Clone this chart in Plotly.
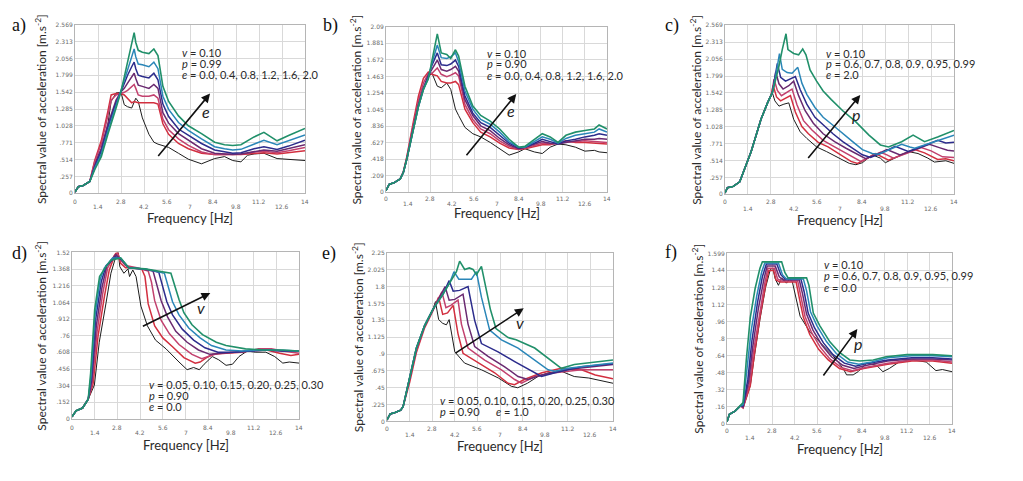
import plotly.graph_objects as go

W, H = 1023, 481

# ---------------- data ----------------
FREQ_TICKS = [0, 1.4, 2.8, 4.2, 5.6, 7.0, 8.4, 9.8, 11.2, 12.6, 14.0]
FREQ_TICK_LABELS = ["0", "1.4", "2.8", "4.2", "5.6", "7", "8.4", "9.8", "11.2", "12.6", "14"]

A_Y_TICKS = [0, 0.2569, 0.5138, 0.7707, 1.0276, 1.2845, 1.5414, 1.7983, 2.0552, 2.3121, 2.569]
A_Y_LABELS = ["0", ".257", ".514", ".771", "1.028", "1.285", "1.542", "1.799", "2.056", "2.313", "2.569"]
B_Y_TICKS = [0, 0.209, 0.418, 0.627, 0.836, 1.045, 1.254, 1.463, 1.672, 1.881, 2.09]
B_Y_LABELS = ["0", ".209", ".418", ".627", ".836", "1.045", "1.254", "1.463", "1.672", "1.881", "2.09"]
C_Y_TICKS = A_Y_TICKS
C_Y_LABELS = A_Y_LABELS
D_Y_TICKS = [0, 0.152, 0.304, 0.456, 0.608, 0.76, 0.912, 1.064, 1.216, 1.368, 1.52]
D_Y_LABELS = ["0", ".152", ".304", ".456", ".608", ".76", ".912", "1.064", "1.216", "1.368", "1.52"]
E_Y_TICKS = [0, 0.225, 0.45, 0.675, 0.9, 1.125, 1.35, 1.575, 1.8, 2.025, 2.25]
E_Y_LABELS = ["0", ".225", ".45", ".675", ".9", "1.125", "1.35", "1.575", "1.8", "2.025", "2.25"]
F_Y_TICKS = [0, 0.16, 0.32, 0.48, 0.64, 0.8, 0.96, 1.12, 1.28, 1.44, 1.599]
F_Y_LABELS = ["0", ".16", ".32", ".48", ".64", ".8", ".96", "1.12", "1.28", "1.44", "1.599"]

# panel a (shared frequency grid)
a_freq = [0, 0.2, 0.5, 0.9, 1.2, 1.6, 2.0, 2.2, 2.5, 2.8, 3.0, 3.2, 3.45, 3.6, 3.7, 3.85, 4.1, 4.5, 4.8,
          5.05, 5.35, 5.7, 6.3, 6.9, 7.7, 8.5, 9.1, 9.6, 10.1, 10.5, 10.9, 11.5, 12.3, 13.0, 14.0]
a_black = [0.02, 0.1, 0.12, 0.18, 0.45, 0.68, 1.05, 1.4, 1.53, 1.54, 1.35, 1.32, 1.3, 1.38, 1.45, 1.4, 1.15, 0.9,
           0.78, 0.75, 0.73, 0.7, 0.61, 0.52, 0.45, 0.53, 0.56, 0.5, 0.48, 0.58, 0.6, 0.61, 0.53, 0.52, 0.5]
a_red1 = [0.02, 0.1, 0.12, 0.18, 0.5, 0.8, 1.25, 1.5, 1.52, 1.52, 1.5, 1.45, 1.38, 1.4, 1.39, 1.38, 1.38, 1.38,
          1.38, 1.36, 1.06, 0.9, 0.76, 0.68, 0.61, 0.59, 0.59, 0.58, 0.59, 0.6, 0.61, 0.62, 0.6, 0.62, 0.65]
a_red2 = [0.02, 0.1, 0.12, 0.18, 0.48, 0.75, 1.18, 1.42, 1.5, 1.52, 1.54, 1.57, 1.62, 1.66, 1.6, 1.5, 1.48, 1.48,
          1.5, 1.45, 1.13, 0.97, 0.83, 0.73, 0.63, 0.59, 0.59, 0.59, 0.6, 0.61, 0.63, 0.64, 0.62, 0.65, 0.7]
a_purple = [0.02, 0.1, 0.12, 0.18, 0.42, 0.68, 1.05, 1.2, 1.42, 1.55, 1.6, 1.68, 1.78, 1.83, 1.75, 1.65, 1.63, 1.6,
            1.66, 1.6, 1.23, 1.07, 0.91, 0.81, 0.68, 0.61, 0.6, 0.59, 0.6, 0.62, 0.64, 0.66, 0.64, 0.68, 0.74]
a_navy = [0.02, 0.1, 0.12, 0.18, 0.4, 0.64, 1.0, 1.15, 1.38, 1.55, 1.68, 1.8, 1.93, 2.0, 1.9, 1.8, 1.78, 1.76,
          1.83, 1.73, 1.36, 1.17, 0.98, 0.88, 0.76, 0.66, 0.63, 0.61, 0.62, 0.65, 0.68, 0.71, 0.67, 0.72, 0.81]
a_blue = [0.02, 0.1, 0.12, 0.18, 0.38, 0.6, 0.95, 1.1, 1.33, 1.55, 1.72, 1.88, 2.08, 2.2, 2.08, 1.97, 1.96, 1.93,
          2.0, 1.9, 1.48, 1.28, 1.08, 0.96, 0.83, 0.71, 0.68, 0.66, 0.67, 0.71, 0.76, 0.81, 0.74, 0.8, 0.89]
a_green = [0.02, 0.1, 0.12, 0.18, 0.36, 0.56, 0.9, 1.05, 1.3, 1.55, 1.78, 1.98, 2.25, 2.45, 2.3, 2.18, 2.15, 2.13,
           2.2, 2.1, 1.63, 1.4, 1.18, 1.03, 0.91, 0.78, 0.74, 0.73, 0.74, 0.8, 0.86, 0.93, 0.8, 0.88, 0.99]

# panel b (shared frequency grid)
b_freq = [0, 0.2, 0.5, 0.9, 1.1, 1.32, 1.74, 2.05, 2.37, 2.68, 2.9, 3.25, 3.5, 3.85, 4.1, 4.4, 4.6, 5.0, 5.5,
          6.0, 6.6, 7.2, 7.8, 8.4, 8.8, 9.4, 9.9, 10.4, 10.9, 11.4, 12.0, 12.6, 13.2, 13.5, 14.0]
b_black = [0.02, 0.1, 0.12, 0.17, 0.25, 0.42, 0.82, 1.12, 1.32, 1.45, 1.51, 1.34, 1.32, 1.38, 1.3, 1.05, 0.97,
           0.82, 0.74, 0.7, 0.63, 0.55, 0.47, 0.51, 0.55, 0.51, 0.49, 0.57, 0.61, 0.6, 0.57, 0.52, 0.53, 0.51, 0.5]
b_red1 = [0.02, 0.1, 0.12, 0.17, 0.26, 0.45, 0.9, 1.21, 1.44, 1.52, 1.49, 1.47, 1.4, 1.38, 1.38, 1.4, 1.36,
          1.05, 0.88, 0.76, 0.7, 0.62, 0.56, 0.54, 0.55, 0.58, 0.6, 0.6, 0.63, 0.65, 0.63, 0.63, 0.62, 0.62, 0.61]
b_red2 = [0.02, 0.1, 0.12, 0.17, 0.26, 0.44, 0.86, 1.15, 1.38, 1.5, 1.5, 1.57, 1.49, 1.46, 1.48, 1.51, 1.47,
          1.11, 0.92, 0.8, 0.74, 0.65, 0.58, 0.54, 0.56, 0.59, 0.62, 0.61, 0.62, 0.64, 0.64, 0.65, 0.64, 0.64, 0.63]
b_purple = [0.02, 0.1, 0.12, 0.17, 0.25, 0.42, 0.82, 1.1, 1.32, 1.48, 1.55, 1.67, 1.55, 1.53, 1.55, 1.59, 1.53,
            1.17, 0.97, 0.84, 0.78, 0.68, 0.6, 0.55, 0.57, 0.61, 0.64, 0.62, 0.61, 0.63, 0.65, 0.67, 0.67, 0.68, 0.67]
b_navy = [0.02, 0.1, 0.12, 0.17, 0.25, 0.42, 0.8, 1.08, 1.3, 1.46, 1.6, 1.76, 1.61, 1.6, 1.62, 1.67, 1.59,
          1.22, 1.0, 0.88, 0.82, 0.72, 0.62, 0.56, 0.57, 0.62, 0.67, 0.64, 0.61, 0.65, 0.67, 0.7, 0.72, 0.74, 0.72]
b_blue = [0.02, 0.1, 0.12, 0.17, 0.25, 0.42, 0.8, 1.08, 1.3, 1.44, 1.62, 1.86, 1.7, 1.69, 1.71, 1.76, 1.65,
          1.28, 1.05, 0.92, 0.86, 0.76, 0.64, 0.57, 0.57, 0.64, 0.7, 0.67, 0.62, 0.68, 0.72, 0.74, 0.76, 0.8, 0.76]
b_green = [0.02, 0.1, 0.12, 0.17, 0.25, 0.42, 0.8, 1.08, 1.3, 1.43, 1.65, 2.0, 1.76, 1.74, 1.69, 1.8, 1.72,
           1.34, 1.09, 0.97, 0.9, 0.8, 0.67, 0.57, 0.58, 0.67, 0.74, 0.7, 0.63, 0.72, 0.76, 0.78, 0.8, 0.85, 0.8]

# panel c (frequency, value) pairs
c_black = [(0, 0.02), (0.15, 0.1), (0.5, 0.12), (0.9, 0.19), (1.6, 0.65), (2.2, 1.14), (2.6, 1.39), (2.9, 1.54),
           (3.05, 1.42), (3.3, 1.34), (3.6, 1.37), (3.9, 1.39), (4.2, 1.14), (4.6, 0.95), (5.0, 0.85), (5.6, 0.72),
           (6.2, 0.65), (7.0, 0.55), (7.6, 0.47), (8.0, 0.45), (8.4, 0.48), (9.0, 0.6), (9.5, 0.55), (9.8, 0.48),
           (10.5, 0.56), (11.2, 0.65), (11.8, 0.62), (12.4, 0.55), (12.8, 0.49), (13.5, 0.51), (14, 0.47)]
c_red1 = [(0, 0.02), (0.15, 0.1), (0.5, 0.12), (0.9, 0.19), (1.6, 0.65), (2.2, 1.14), (2.6, 1.39), (2.8, 1.5),
          (2.95, 1.65), (3.15, 1.48), (3.4, 1.42), (3.7, 1.46), (4.0, 1.5), (4.3, 1.25), (4.7, 1.03), (5.1, 0.92),
          (5.7, 0.79), (6.3, 0.72), (7.1, 0.6), (7.7, 0.5), (8.1, 0.47), (8.5, 0.52), (9.2, 0.62), (9.6, 0.57),
          (10.0, 0.52), (10.8, 0.6), (11.6, 0.68), (12.2, 0.63), (13.0, 0.53), (13.5, 0.54), (14, 0.51)]
c_red2 = [(0, 0.02), (0.15, 0.1), (0.5, 0.12), (0.9, 0.19), (1.6, 0.65), (2.2, 1.14), (2.6, 1.39), (2.85, 1.53),
          (3.0, 1.75), (3.2, 1.58), (3.45, 1.5), (3.8, 1.55), (4.1, 1.6), (4.4, 1.36), (4.8, 1.12), (5.3, 0.98),
          (6.0, 0.82), (6.7, 0.72), (7.4, 0.62), (8.0, 0.54), (8.3, 0.5), (8.8, 0.56), (9.5, 0.64), (9.9, 0.6),
          (10.3, 0.55), (11.2, 0.63), (12.0, 0.71), (12.6, 0.66), (13.3, 0.57), (14, 0.56)]
c_purple = [(0, 0.02), (0.15, 0.1), (0.5, 0.12), (0.9, 0.19), (1.6, 0.65), (2.2, 1.14), (2.6, 1.39), (2.9, 1.55),
            (3.1, 1.86), (3.3, 1.68), (3.55, 1.6), (3.9, 1.65), (4.2, 1.72), (4.5, 1.5), (4.9, 1.27), (5.4, 1.08),
            (6.0, 0.92), (6.7, 0.8), (7.4, 0.7), (8.1, 0.6), (8.6, 0.54), (9.2, 0.6), (9.9, 0.68), (10.3, 0.64),
            (10.7, 0.6), (11.6, 0.68), (12.5, 0.76), (13.1, 0.71), (13.6, 0.67), (14, 0.66)]
c_navy = [(0, 0.02), (0.15, 0.1), (0.5, 0.12), (0.9, 0.19), (1.6, 0.65), (2.2, 1.14), (2.6, 1.39), (2.9, 1.55),
          (3.2, 1.99), (3.4, 1.78), (3.7, 1.72), (4.0, 1.75), (4.3, 1.79), (4.6, 1.59), (5.0, 1.37), (5.5, 1.17),
          (6.0, 1.05), (6.6, 0.92), (7.2, 0.8), (7.8, 0.7), (8.4, 0.6), (8.9, 0.56), (9.6, 0.63), (10.4, 0.73),
          (10.8, 0.69), (11.2, 0.65), (12.1, 0.73), (13.0, 0.82), (13.5, 0.78), (14, 0.79)]
c_blue = [(0, 0.02), (0.15, 0.1), (0.5, 0.12), (0.9, 0.19), (1.6, 0.65), (2.2, 1.14), (2.6, 1.39), (2.9, 1.55),
          (3.1, 1.8), (3.33, 2.14), (3.5, 1.9), (3.8, 1.85), (4.1, 1.84), (4.45, 1.93), (4.7, 1.69), (5.0, 1.52),
          (5.5, 1.32), (6.0, 1.17), (6.6, 1.05), (7.2, 0.92), (7.8, 0.8), (8.4, 0.68), (9.0, 0.62), (9.4, 0.61),
          (10.0, 0.67), (10.8, 0.76), (11.3, 0.72), (11.6, 0.7), (12.8, 0.8), (14, 0.9)]
c_green = [(0, 0.02), (0.15, 0.1), (0.5, 0.12), (0.9, 0.19), (1.6, 0.65), (2.2, 1.14), (2.6, 1.39), (2.9, 1.55),
           (3.1, 1.75), (3.3, 1.95), (3.5, 2.2), (3.73, 2.44), (3.85, 2.2), (4.2, 2.14), (4.5, 2.12), (4.75, 2.21),
           (4.95, 2.12), (5.2, 1.89), (5.6, 1.72), (6.0, 1.57), (6.5, 1.44), (7.2, 1.27), (8.0, 1.1), (8.8, 0.9),
           (9.5, 0.75), (10.0, 0.72), (10.8, 0.8), (11.5, 0.9), (12.2, 0.8), (13.0, 0.87), (14, 0.97)]

# panel d
d_black = [(0, 0.02), (0.25, 0.075), (0.65, 0.1), (1.0, 0.18), (1.38, 0.31), (1.68, 0.7), (2.1, 1.06), (2.4, 1.33),
           (2.7, 1.48), (2.85, 1.52), (2.95, 1.39), (3.2, 1.33), (3.45, 1.37), (3.55, 1.3), (3.75, 1.36), (3.95, 1.3),
           (4.25, 1.03), (4.65, 0.85), (5.15, 0.72), (5.8, 0.64), (6.6, 0.52), (7.1, 0.45), (7.5, 0.47), (7.85, 0.45),
           (8.15, 0.5), (8.65, 0.57), (9.05, 0.54), (9.5, 0.49), (9.9, 0.5), (10.3, 0.57), (10.8, 0.62), (11.3, 0.61),
           (11.95, 0.61), (12.5, 0.57), (13.0, 0.51), (13.4, 0.52), (14, 0.51)]
d_red1 = [(0, 0.02), (0.25, 0.075), (0.65, 0.1), (1.0, 0.18), (1.3, 0.32), (1.6, 0.75), (2.0, 1.12), (2.3, 1.36),
          (2.65, 1.5), (2.8, 1.53), (3.0, 1.42), (3.3, 1.38), (3.8, 1.38), (4.3, 1.37), (4.5, 1.3), (4.7, 1.05),
          (5.1, 0.85), (5.6, 0.74), (6.2, 0.66), (6.9, 0.56), (7.6, 0.51), (7.9, 0.52), (8.3, 0.56), (8.7, 0.59),
          (9.5, 0.6), (10.5, 0.61), (11.2, 0.63), (12, 0.63), (12.8, 0.6), (13.5, 0.58), (14, 0.59)]
d_red2 = [(0, 0.02), (0.25, 0.075), (0.65, 0.1), (1.0, 0.18), (1.25, 0.33), (1.55, 0.8), (1.9, 1.15), (2.2, 1.38),
          (2.6, 1.49), (2.8, 1.51), (3.0, 1.45), (3.3, 1.4), (4.0, 1.38), (4.7, 1.35), (4.9, 1.25), (5.1, 1.08),
          (5.5, 0.9), (6.0, 0.78), (6.6, 0.68), (7.4, 0.59), (8.0, 0.55), (8.4, 0.57), (9.0, 0.6), (10, 0.61),
          (11, 0.62), (11.5, 0.64), (12.3, 0.64), (13, 0.62), (14, 0.6)]
d_purple = [(0, 0.02), (0.25, 0.075), (0.65, 0.1), (1.0, 0.18), (1.22, 0.35), (1.5, 0.85), (1.85, 1.2), (2.15, 1.4),
            (2.7, 1.5), (3.0, 1.46), (3.5, 1.38), (4.2, 1.37), (5.0, 1.35), (5.25, 1.22), (5.5, 1.08), (5.9, 0.93),
            (6.4, 0.8), (7.1, 0.7), (7.8, 0.63), (8.5, 0.59), (9.2, 0.6), (10, 0.61), (11, 0.62), (12, 0.63),
            (13, 0.62), (14, 0.62)]
d_navy = [(0, 0.02), (0.25, 0.075), (0.65, 0.1), (1.0, 0.18), (1.2, 0.38), (1.45, 0.9), (1.8, 1.25), (2.1, 1.4),
          (2.7, 1.48), (3.0, 1.46), (3.5, 1.38), (4.5, 1.37), (5.35, 1.34), (5.6, 1.2), (5.85, 1.07), (6.2, 0.95),
          (6.8, 0.82), (7.5, 0.72), (8.2, 0.65), (9.0, 0.61), (10, 0.61), (11, 0.62), (12, 0.63), (13, 0.62),
          (14, 0.62)]
d_blue = [(0, 0.02), (0.25, 0.075), (0.65, 0.1), (1.0, 0.18), (1.18, 0.4), (1.42, 0.95), (1.75, 1.28), (2.0, 1.38),
          (2.5, 1.47), (3.0, 1.47), (3.5, 1.38), (4.5, 1.37), (5.7, 1.33), (5.95, 1.2), (6.2, 1.07), (6.6, 0.95),
          (7.2, 0.83), (7.9, 0.74), (8.6, 0.67), (9.5, 0.63), (10.5, 0.62), (11.5, 0.63), (12.5, 0.63), (14, 0.62)]
d_green = [(0, 0.02), (0.25, 0.075), (0.65, 0.1), (1.0, 0.18), (1.15, 0.42), (1.4, 1.0), (1.7, 1.3), (2.0, 1.37),
           (2.4, 1.45), (3.0, 1.47), (3.5, 1.38), (4.5, 1.37), (6.1, 1.33), (6.35, 1.2), (6.6, 1.09), (6.9, 0.97),
           (7.4, 0.86), (8.05, 0.77), (8.9, 0.7), (9.5, 0.67), (10.7, 0.64), (11.95, 0.63), (13, 0.63), (14, 0.62)]

# panel e
e_black = [(0, 0.02), (0.2, 0.1), (0.5, 0.12), (0.85, 0.15), (1.0, 0.2), (1.4, 0.55), (1.82, 0.95), (2.33, 1.27),
           (2.85, 1.5), (3.0, 1.6), (3.2, 1.36), (3.45, 1.31), (3.68, 1.29), (3.85, 1.36), (4.2, 0.93), (4.8, 0.78),
           (5.85, 0.69), (6.9, 0.58), (7.7, 0.47), (8.1, 0.45), (8.7, 0.51), (9.35, 0.6), (10.0, 0.65), (10.8, 0.67),
           (11.6, 0.6), (12.5, 0.58), (14, 0.51)]
e_red1 = [(0, 0.02), (0.2, 0.1), (0.5, 0.12), (0.85, 0.15), (1.0, 0.2), (1.4, 0.52), (1.82, 0.92), (2.33, 1.25),
          (2.85, 1.48), (3.2, 1.66), (3.45, 1.43), (3.75, 1.45), (4.1, 1.55), (4.4, 1.17), (4.71, 0.91), (5.85, 0.76),
          (6.67, 0.65), (7.5, 0.51), (7.9, 0.49), (8.5, 0.56), (9.6, 0.65), (10.8, 0.71), (12.05, 0.69), (12.9, 0.62),
          (14, 0.57)]
e_red2 = [(0, 0.02), (0.2, 0.1), (0.5, 0.12), (0.85, 0.15), (1.0, 0.2), (1.4, 0.55), (1.82, 0.95), (2.33, 1.27),
          (2.85, 1.5), (3.4, 1.73), (3.65, 1.52), (3.95, 1.55), (4.4, 1.62), (4.61, 1.3), (5.02, 0.98), (6.05, 0.82),
          (7.09, 0.69), (7.91, 0.56), (8.33, 0.51), (9.15, 0.6), (10.4, 0.65), (12.05, 0.69), (14, 0.69)]
e_purple = [(0, 0.02), (0.2, 0.1), (0.5, 0.12), (0.85, 0.15), (1.0, 0.2), (1.4, 0.58), (1.82, 0.97), (2.33, 1.28),
            (2.85, 1.5), (3.6, 1.8), (3.85, 1.62), (4.2, 1.63), (4.71, 1.7), (5.02, 1.3), (5.43, 1.0), (6.26, 0.87),
            (7.29, 0.73), (8.12, 0.6), (8.74, 0.56), (9.57, 0.62), (11.0, 0.69), (14, 0.76)]
e_navy = [(0, 0.02), (0.2, 0.1), (0.5, 0.12), (0.85, 0.15), (1.0, 0.2), (1.4, 0.6), (1.82, 0.98), (2.33, 1.28),
          (2.85, 1.5), (3.47, 1.7), (3.85, 1.88), (4.1, 1.74), (4.5, 1.75), (5.02, 1.8), (5.43, 1.35), (5.85, 1.04),
          (6.88, 0.93), (7.91, 0.8), (8.95, 0.67), (9.57, 0.6), (10.4, 0.65), (12.05, 0.73), (14, 0.77)]
e_blue = [(0, 0.02), (0.2, 0.1), (0.5, 0.12), (0.85, 0.15), (1.0, 0.2), (1.4, 0.6), (1.82, 0.98), (2.33, 1.28),
          (2.85, 1.5), (3.47, 1.7), (3.88, 1.85), (4.15, 2.0), (4.45, 1.9), (4.9, 1.9), (5.23, 1.9), (5.54, 2.0),
          (5.85, 1.66), (6.36, 1.22), (7.09, 1.09), (8.12, 0.98), (9.15, 0.82), (9.98, 0.69), (10.4, 0.67),
          (11.2, 0.71), (14, 0.78)]
e_green = [(0, 0.02), (0.2, 0.1), (0.5, 0.12), (0.85, 0.15), (1.0, 0.2), (1.4, 0.6), (1.82, 0.98), (2.33, 1.28),
           (2.85, 1.5), (3.47, 1.7), (3.88, 1.85), (4.3, 2.0), (4.5, 2.14), (4.81, 2.03), (5.1, 2.05), (5.33, 2.03),
           (5.54, 1.96), (5.85, 2.07), (6.4, 1.5), (6.75, 1.24), (7.5, 1.12), (8.0, 1.09), (9.15, 0.98), (9.98, 0.84),
           (10.8, 0.71), (11.6, 0.76), (14, 0.82)]

# panel f
f_black = [(0, 0.02), (0.15, 0.09), (0.5, 0.12), (0.85, 0.17), (1.0, 0.15), (1.45, 0.36), (1.7, 0.63), (2.05, 0.98),
           (2.4, 1.28), (2.7, 1.45), (2.85, 1.46), (3.0, 1.36), (3.2, 1.3), (3.4, 1.37), (3.7, 1.32), (3.9, 1.36),
           (4.07, 1.33), (4.55, 1.01), (5.17, 0.86), (5.78, 0.77), (6.6, 0.64), (7.23, 0.52), (7.44, 0.46),
           (7.85, 0.46), (8.16, 0.49), (8.68, 0.57), (9.3, 0.55), (9.7, 0.49), (10.1, 0.52), (10.7, 0.58),
           (11.6, 0.6), (12.4, 0.58), (13.0, 0.5), (13.4, 0.51), (14, 0.49)]
f_red1 = [(0, 0.02), (0.15, 0.09), (0.5, 0.12), (0.85, 0.17), (1.0, 0.15), (1.45, 0.36), (1.7, 0.65), (2.05, 1.0),
          (2.4, 1.3), (2.6, 1.44), (2.9, 1.44), (3.05, 1.35), (3.3, 1.33), (4.3, 1.33), (4.5, 1.18), (4.75, 1.0),
          (5.15, 0.84), (5.7, 0.7), (6.3, 0.6), (7.0, 0.52), (7.7, 0.49), (8.5, 0.52), (10, 0.56), (11.5, 0.59),
          (12.8, 0.59), (14, 0.57)]
f_red2 = [(0, 0.02), (0.15, 0.09), (0.5, 0.12), (0.85, 0.17), (1.0, 0.15), (1.4, 0.38), (1.65, 0.68), (2.0, 1.02),
          (2.35, 1.32), (2.55, 1.46), (2.95, 1.46), (3.15, 1.36), (3.4, 1.34), (4.4, 1.34), (4.6, 1.2), (4.85, 1.01),
          (5.25, 0.86), (5.8, 0.72), (6.4, 0.61), (7.1, 0.53), (7.8, 0.5), (8.6, 0.53), (10, 0.57), (11.5, 0.6),
          (12.8, 0.6), (14, 0.58)]
f_purple = [(0, 0.02), (0.15, 0.09), (0.5, 0.12), (0.85, 0.17), (1.0, 0.16), (1.35, 0.4), (1.6, 0.72), (1.95, 1.08),
            (2.3, 1.36), (2.5, 1.48), (3.0, 1.48), (3.25, 1.38), (3.5, 1.35), (4.5, 1.35), (4.7, 1.22), (4.95, 1.03),
            (5.35, 0.88), (5.9, 0.74), (6.5, 0.63), (7.2, 0.55), (7.9, 0.52), (8.7, 0.55), (10, 0.59), (11.5, 0.61),
            (12.8, 0.61), (14, 0.6)]
f_navy = [(0, 0.02), (0.15, 0.09), (0.5, 0.12), (0.85, 0.17), (1.0, 0.17), (1.3, 0.42), (1.55, 0.78), (1.9, 1.14),
          (2.2, 1.38), (2.45, 1.5), (3.1, 1.5), (3.35, 1.4), (3.6, 1.36), (4.6, 1.36), (4.8, 1.24), (5.05, 1.04),
          (5.45, 0.9), (6.0, 0.76), (6.6, 0.65), (7.3, 0.57), (8.0, 0.54), (8.8, 0.57), (10, 0.6), (11.5, 0.62),
          (12.8, 0.62), (14, 0.61)]
f_blue = [(0, 0.02), (0.15, 0.09), (0.5, 0.12), (0.85, 0.17), (1.0, 0.18), (1.25, 0.5), (1.5, 0.87), (1.85, 1.2),
          (2.15, 1.42), (2.35, 1.51), (3.2, 1.51), (3.45, 1.4), (3.7, 1.36), (4.75, 1.36), (4.95, 1.25), (5.2, 1.05),
          (5.6, 0.92), (6.2, 0.77), (6.8, 0.66), (7.5, 0.58), (8.2, 0.56), (9.0, 0.58), (10, 0.62), (11.5, 0.64),
          (12.8, 0.64), (14, 0.63)]
f_green = [(0, 0.02), (0.15, 0.09), (0.5, 0.12), (0.85, 0.17), (1.0, 0.2), (1.2, 0.6), (1.45, 1.0), (1.75, 1.27),
           (2.05, 1.46), (2.2, 1.52), (3.4, 1.52), (3.6, 1.42), (3.8, 1.37), (4.95, 1.37), (5.1, 1.3), (5.37, 1.04),
           (5.78, 0.92), (6.4, 0.77), (7.0, 0.67), (7.64, 0.6), (8.26, 0.59), (9.1, 0.6), (9.9, 0.63), (11.2, 0.65),
           (12.8, 0.65), (14, 0.64)]

# ---------------- styling ----------------
COLORS = ["#1c1c1c", "#d22f3f", "#c2416e", "#6a2a70", "#2c2c8c", "#2a86b8", "#21906a"]
WIDTHS = [1.0, 1.5, 1.5, 1.5, 1.5, 1.5, 1.6]
FONT = "Lato, 'Open Sans', sans-serif"
TEXT = "#2a2a2a"
GRID = "#d9d9d9"


def unzip(pairs):
    return [p[0] for p in pairs], [p[1] for p in pairs]


def grid_curves(freq, curves):
    return [(freq, c) for c in curves]


def pair_curves(curves):
    return [unzip(c) for c in curves]


YT = "Spectral value of acceleration [m.s<sup>-2</sup>]"

panels = [
    dict(label="a)", lab_xy=(2, 14), box=(67, 297, 13, 184), top=2.569, yt=A_Y_TICKS, yl=A_Y_LABELS,
         curves=grid_curves(a_freq, [a_black, a_red1, a_red2, a_purple, a_navy, a_blue, a_green]),
         ytitle_dx=34, xtitle_dy=25, tick_off=(8, 13.5),
         arrow=((4.99, 0.545), (8.22, 1.52)), arrow_lab=("e", 7.95, 1.24),
         text=[("<i>v</i> = 0.10", 172, 40.7), ("<i>p</i> = 0.99", 172, 52), (
             "<i>e</i> = 0.0, 0.4, 0.8, 1.2, 1.6, 2.0", 172, 63.3)]),
    dict(label="b)", lab_xy=(313, 14), box=(378, 599, 15, 183), top=2.09, yt=B_Y_TICKS, yl=B_Y_LABELS,
         curves=grid_curves(b_freq, [b_black, b_red1, b_red2, b_purple, b_navy, b_blue, b_green]),
         ytitle_dx=30, xtitle_dy=21, tick_off=(6, 11.5),
         arrow=((5.02, 0.45), (8.25, 1.24)), arrow_lab=("e", 7.94, 1.03),
         text=[("<i>v</i> = 0.10", 477, 41.7), ("<i>p</i> = 0.90", 477, 52.5), (
             "<i>e</i> = 0.0, 0.4, 0.8, 1.2, 1.6, 2.0", 477, 64)]),
    dict(label="c)", lab_xy=(655, 14), box=(717, 946, 13.5, 185), top=2.569, yt=C_Y_TICKS, yl=C_Y_LABELS,
         curves=pair_curves([c_black, c_red1, c_red2, c_purple, c_navy, c_blue, c_green]),
         ytitle_dx=29, xtitle_dy=26, tick_off=(7.5, 14),
         arrow=((5.01, 0.53), (8.27, 1.51)), arrow_lab=("p", 7.99, 1.22),
         text=[("<i>v</i> = 0.10", 816, 41.7), ("<i>p</i> = 0.6, 0.7, 0.8, 0.9, 0.95, 0.99", 816, 52.7), (
             "<i>e</i> = 2.0", 816, 63.3)]),
    dict(label="d)", lab_xy=(2, 245), box=(64, 291, 244, 413), top=1.52, yt=D_Y_TICKS, yl=D_Y_LABELS,
         curves=pair_curves([d_black, d_red1, d_red2, d_purple, d_navy, d_blue, d_green]),
         ytitle_dx=31, xtitle_dy=26, tick_off=(9, 14),
         arrow=((4.28, 0.84), (8.53, 1.15)), arrow_lab=("v", 7.98, 1.02),
         text=[("<i>v</i> = 0.05, 0.10, 0.15, 0.20, 0.25, 0.30", 139, 378.3), ("<i>p</i> = 0.90", 139, 389.3),
               ("<i>e</i> = 0.0", 139, 400.7)]),
    dict(label="e)", lab_xy=(312, 245), box=(379, 605, 244.5, 415.5), top=2.25, yt=E_Y_TICKS, yl=E_Y_LABELS,
         curves=pair_curves([e_black, e_red1, e_red2, e_purple, e_navy, e_blue, e_green]),
         ytitle_dx=29, xtitle_dy=25, tick_off=(7, 13),
         arrow=((4.15, 0.9), (8.47, 1.51)), arrow_lab=("v", 8.22, 1.32),
         text=[("<i>v</i> = 0.05, 0.10, 0.15, 0.20, 0.25, 0.30", 430, 394), ("<i>p</i> = 0.90", 430, 405),
               ("<i>e</i> = 1.0", 486, 405)]),
    dict(label="f)", lab_xy=(655, 244), box=(719, 944, 245, 418), top=1.599, yt=F_Y_TICKS, yl=F_Y_LABELS,
         curves=pair_curves([f_black, f_red1, f_red2, f_purple, f_navy, f_blue, f_green]),
         ytitle_dx=29, xtitle_dy=25, tick_off=(7, 13.5),
         arrow=((5.93, 0.44), (8.11, 0.89)), arrow_lab=("p", 8.15, 0.75),
         text=[("<i>v</i> = 0.10", 814, 256), ("<i>p</i> = 0.6, 0.7, 0.8, 0.9, 0.95, 0.99", 814, 267.7),
               ("<i>e</i> = 0.0", 814, 279.5)]),
]

fig = go.Figure()
annotations = []
layout = dict(width=W, height=H, margin=dict(l=0, r=0, t=0, b=0), paper_bgcolor="white",
              plot_bgcolor="white", showlegend=False, font=dict(family=FONT, color=TEXT))

for i, p in enumerate(panels):
    k = "" if i == 0 else str(i + 1)
    xa, ya = "x" + k, "y" + k
    x0, x1, y0, y1 = p["box"]
    layout["xaxis" + k] = dict(domain=[x0 / W, x1 / W], anchor=ya, range=[0, 14], tickvals=FREQ_TICKS,
                               showticklabels=False, showgrid=True, gridcolor=GRID, gridwidth=1, zeroline=False,
                               showline=True, linecolor="#b5b5b5", linewidth=1, mirror=True, ticks="",
                               fixedrange=True)
    layout["yaxis" + k] = dict(domain=[(H - y1) / H, (H - y0) / H], anchor=xa, range=[0, p["top"]],
                               tickvals=p["yt"], ticktext=p["yl"], showgrid=True, gridcolor=GRID, gridwidth=1,
                               zeroline=False, showline=True, linecolor="#b5b5b5", linewidth=1, mirror=True,
                               ticks="", tickfont=dict(size=6, color="#6a6a6a", family="DejaVu Sans"),
                               fixedrange=True)
    for j, (fx, fy) in enumerate(p["curves"]):
        fig.add_trace(go.Scatter(x=fx, y=fy, mode="lines", xaxis=xa, yaxis=ya,
                                 line=dict(color=COLORS[j], width=WIDTHS[j]), hoverinfo="skip"))
    # staggered frequency tick labels
    for j, (tv, tl) in enumerate(zip(FREQ_TICKS, FREQ_TICK_LABELS)):
        off = p["tick_off"][j % 2]
        annotations.append(dict(x=tv, y=0, xref=xa, yref=ya + " domain", text=tl, showarrow=False,
                                yanchor="middle", xanchor="center", yshift=-off,
                                font=dict(size=6, color="#6a6a6a", family="DejaVu Sans")))
    # axis titles
    annotations.append(dict(x=(x0 - p["ytitle_dx"]) / W, y=(H - (y0 + y1) / 2) / H, xref="paper", yref="paper",
                            text=YT, textangle=-90, showarrow=False, xanchor="center", yanchor="middle",
                            font=dict(size=12, color=TEXT, family=FONT)))
    annotations.append(dict(x=((x0 + x1) / 2) / W, y=(H - (y1 + p["xtitle_dy"])) / H, xref="paper",
                            yref="paper", text="Frequency [Hz]", showarrow=False, xanchor="center",
                            yanchor="middle", font=dict(size=13, color=TEXT, family=FONT)))
    # panel letter
    lx, ly = p["lab_xy"]
    annotations.append(dict(x=lx / W, y=(H - ly) / H, xref="paper", yref="paper", text=p["label"],
                            showarrow=False, xanchor="left", yanchor="middle",
                            font=dict(size=18, color="#111", family="'Liberation Serif', 'DejaVu Serif', serif")))
    # parameter text
    for t, tx, ty in p["text"]:
        annotations.append(dict(x=tx / W, y=(H - ty) / H, xref="paper", yref="paper", text=t, showarrow=False,
                                xanchor="left", yanchor="middle", font=dict(size=11, color=TEXT, family=FONT)))
    # arrow
    (ax_, ay_), (hx, hy) = p["arrow"]
    annotations.append(dict(x=hx, y=hy, ax=ax_, ay=ay_, xref=xa, yref=ya, axref=xa, ayref=ya, text="",
                            showarrow=True, arrowhead=2, arrowsize=1.1, arrowwidth=1.6, arrowcolor="#111"))
    lt, lxv, lyv = p["arrow_lab"]
    annotations.append(dict(x=lxv, y=lyv, xref=xa, yref=ya, text="<i>" + lt + "</i>", showarrow=False,
                            font=dict(size=16, color="#222", family=FONT)))

layout["annotations"] = annotations
fig.update_layout(**layout)
fig.write_html("out.html")
